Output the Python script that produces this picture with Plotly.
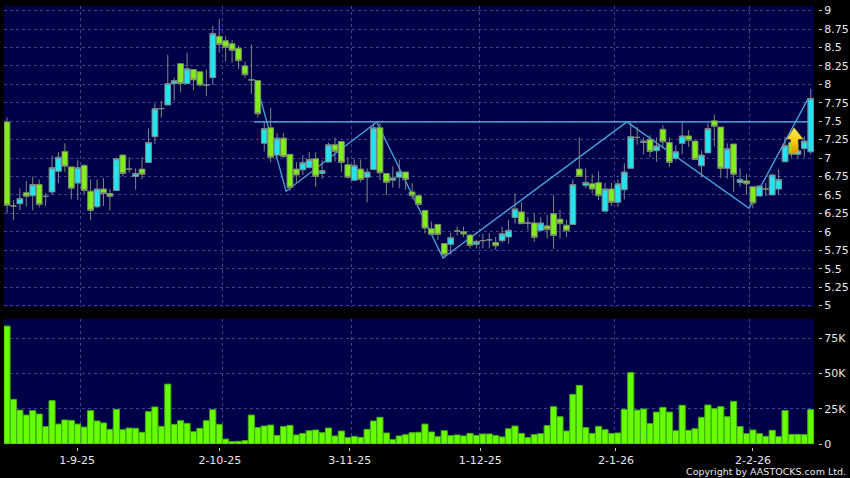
import plotly.graph_objects as go

# daily prices
opens = [7.49, 6.35, 6.38, 6.53, 6.49, 6.64, 6.48, 6.54, 6.82, 7.09,
         6.88, 6.66, 6.90, 6.55, 6.34, 6.58, 6.52, 6.56, 7.04, 6.85,
         6.75, 6.85, 6.94, 7.29, 7.67, 7.72, 8.01, 8.28, 8.01, 8.20,
         8.17, 7.99, 8.09, 8.65, 8.59, 8.55, 8.49, 8.25, 8.06, 8.05,
         7.20, 7.41, 7.04, 7.27, 7.05, 6.85, 6.84, 6.87, 6.99, 6.79,
         6.945, 7.18, 7.225, 6.91, 6.70, 6.85, 6.74, 6.845, 7.41, 6.79,
         6.70, 6.74, 6.81, 6.54, 6.49, 6.29, 6.04, 6.10, 5.84, 5.83,
         6.01, 6.00, 5.955, 5.83, 5.88, 5.89, 5.855, 5.88, 5.93, 6.195,
         6.27, 6.12, 6.12, 6.02, 6.08, 6.245, 6.17, 6.09, 6.10, 6.85,
         6.63, 6.65, 6.665, 6.28, 6.58, 6.40, 6.57, 6.86, 7.28, 7.21,
         7.25, 7.10, 7.39, 7.21, 6.995, 7.20, 7.30, 7.23, 6.895, 7.07,
         7.505, 7.42, 6.86, 7.19, 6.67, 6.69, 6.61, 6.485, 6.58, 6.50,
         6.58, 6.95, 7.21, 7.05, 7.13, 7.085]
highs = [7.55, 6.43, 6.59, 6.69, 6.75, 6.71, 6.52, 7.03, 7.08, 7.20,
         6.88, 6.97, 6.92, 6.71, 6.71, 6.73, 6.58, 7.01, 7.05, 7.01,
         6.86, 7.01, 7.40, 7.74, 7.78, 8.40, 8.09, 8.28, 8.43, 8.20,
         8.17, 8.20, 8.79, 8.89, 8.65, 8.60, 8.53, 8.31, 8.54, 8.05,
         7.49, 7.68, 7.34, 7.34, 7.05, 6.95, 7.04, 7.08, 7.08, 6.97,
         7.21, 7.28, 7.225, 7.01, 6.98, 6.98, 6.86, 7.47, 7.49, 6.79,
         6.89, 6.98, 6.81, 6.66, 6.49, 6.29, 6.14, 6.10, 5.84, 5.99,
         6.07, 6.07, 5.97, 5.89, 5.97, 5.98, 5.93, 6.07, 6.16, 6.52,
         6.40, 6.20, 6.25, 6.20, 6.23, 6.50, 6.30, 6.16, 6.71, 7.28,
         6.86, 6.78, 6.82, 6.665, 6.665, 6.71, 6.93, 7.48, 7.42, 7.28,
         7.31, 7.28, 7.45, 7.28, 7.175, 7.48, 7.38, 7.23, 7.10, 7.47,
         7.59, 7.42, 7.20, 7.19, 6.86, 6.78, 6.61, 6.63, 6.66, 6.79,
         6.85, 7.29, 7.29, 7.20, 7.29, 7.94]
lows = [6.25, 6.16, 6.29, 6.34, 6.29, 6.33, 6.35, 6.50, 6.66, 6.81,
        6.44, 6.43, 6.51, 6.16, 6.32, 6.35, 6.29, 6.56, 6.75, 6.80,
        6.57, 6.71, 6.94, 7.19, 7.55, 7.72, 7.78, 7.89, 8.01, 7.92,
        7.97, 7.84, 7.99, 8.43, 8.31, 8.29, 8.21, 8.09, 7.87, 7.55,
        7.09, 6.94, 7.01, 7.00, 6.55, 6.67, 6.77, 6.86, 6.61, 6.72,
        6.945, 6.95, 6.81, 6.72, 6.69, 6.67, 6.40, 6.845, 6.70, 6.50,
        6.60, 6.59, 6.57, 6.44, 6.37, 5.98, 5.965, 5.89, 5.64, 5.69,
        5.95, 5.93, 5.775, 5.775, 5.775, 5.775, 5.75, 5.85, 5.84, 6.11,
        6.11, 6.02, 5.865, 6.00, 5.91, 5.77, 5.91, 5.93, 6.10, 6.75,
        6.59, 6.52, 6.43, 6.28, 6.35, 6.34, 6.44, 6.86, 7.18, 7.05,
        7.01, 6.95, 7.13, 6.88, 6.97, 7.05, 7.15, 6.98, 6.74, 7.07,
        7.16, 6.73, 6.72, 6.54, 6.61, 6.50, 6.32, 6.485, 6.485, 6.50,
        6.50, 6.95, 7.01, 7.00, 7.01, 7.05]
closes = [6.36, 6.35, 6.45, 6.48, 6.64, 6.37, 6.48, 6.87, 7.01, 6.89,
          6.59, 6.87, 6.56, 6.29, 6.58, 6.52, 6.48, 6.99, 6.79, 6.85,
          6.79, 6.78, 7.21, 7.67, 7.67, 8.01, 8.05, 8.01, 8.21, 8.06,
          7.99, 7.99, 8.69, 8.54, 8.50, 8.46, 8.32, 8.13, 8.06, 7.60,
          7.40, 7.01, 7.27, 7.02, 6.60, 6.77, 6.94, 6.98, 6.75, 6.83,
          7.18, 7.09, 6.94, 6.74, 6.90, 6.71, 6.81, 7.41, 6.80, 6.67,
          6.73, 6.81, 6.71, 6.49, 6.37, 6.05, 5.965, 5.965, 5.69, 5.92,
          6.01, 5.97, 5.815, 5.87, 5.88, 5.89, 5.81, 5.975, 6.02, 6.31,
          6.11, 6.12, 5.925, 6.12, 6.03, 5.95, 6.11, 6.015, 6.64, 6.75,
          6.67, 6.58, 6.49, 6.58, 6.40, 6.65, 6.81, 7.29, 7.28, 7.23,
          7.09, 7.165, 7.22, 6.94, 7.085, 7.30, 7.24, 6.98, 7.04, 7.40,
          7.43, 6.86, 7.125, 6.78, 6.71, 6.65, 6.39, 6.62, 6.58, 6.77,
          6.71, 7.17, 7.05, 7.10, 7.23, 7.81]

# volume in thousands
volumes = [83.5, 31.6, 24, 20.5, 23.6, 21.2, 12.3, 30.7, 14.1, 17,
           16.7, 14.1, 12, 23.6, 16.3, 14.9, 10.4, 24.5, 10.1, 11.3,
           11.1, 8.3, 22.9, 26.2, 12.5, 42.4, 13.9, 16.5, 14.6, 8.7,
           11.1, 16.5, 24.3, 13.9, 3.5, 1.7, 1.9, 2.4, 20.5, 11.6,
           12.7, 13.4, 6.1, 12.3, 13.2, 6.4, 7.5, 9.4, 9.9, 8,
           11.3, 5.7, 9.2, 4.5, 5.4, 4.7, 10.4, 16.3, 18.9, 7.8,
           3.1, 5.7, 6.6, 8, 8.3, 14.1, 8.5, 5.2, 9.4, 5.9,
           6.4, 5.7, 7.5, 6.1, 7.1, 7.1, 5.9, 5, 10.8, 12.7,
           7.5, 4.5, 6.6, 7.3, 13, 26.4, 19.3, 9.2, 35.1, 41.5,
           11.6, 7.5, 12.5, 10.1, 7.5, 7.8, 24.5, 50.5, 24, 24.8,
           14.4, 22.6, 25.9, 22.6, 9.4, 27.4, 9.7, 10.8, 18.9, 27.6,
           25, 26.4, 19.3, 30.2, 12.3, 7.3, 9.9, 7.3, 5.4, 9.7,
           5.2, 23.6, 6.8, 6.8, 6.6, 24.3]

days = list(range(len(closes)))

# pattern lines
neckline_x = [38.4, 124.6]
neckline_y = [7.49, 7.49]
zigzag_x = [38.6, 43.4, 57.5, 67.8, 96.4, 115.4, 124.6]
zigzag_y = [8.06, 6.55, 7.49, 5.645, 7.49, 6.32, 7.81]

# yellow signal arrow
arrow_x = [122.4, 123.8, 123.0, 123.0, 121.9, 121.9, 121.3, 122.4]
arrow_y = [7.41, 7.26, 7.26, 7.07, 7.07, 7.26, 7.26, 7.41]

price_ticks = [5, 5.25, 5.5, 5.75, 6, 6.25, 6.5, 6.75, 7, 7.25, 7.5, 7.75, 8, 8.25, 8.5, 8.75, 9]
price_labels = ['5', '5.25', '5.5', '5.75', '6', '6.25', '6.5', '6.75', '7', '7.25', '7.5',
                '7.75', '8', '8.25', '8.5', '8.75', '9']
vol_ticks = [0, 25, 50, 75]
vol_labels = ['0', '25K', '50K', '75K']
date_ticks = [10.9, 33.1, 53.3, 73.6, 94.7, 116.0]
date_labels = ['1-9-25', '2-10-25', '3-11-25', '1-12-25', '2-1-26', '2-2-26']
month_grid = [11.5, 33.5, 53.6, 73.5, 94.5, 115.4]

BG = '#000048'
GRID = '#42428a'
TEXT = '#e8e8e8'
FONT = 'DejaVu Sans'
X_RANGE = [-0.47, 125.5]
Y_RANGE = [4.98, 9.062]
X_DOMAIN = [0, 810 / 814]
PRICE_DOMAIN = [140 / 441, 1]
VOL_DOMAIN = [3 / 441, 128 / 441]

fig = go.Figure()

# lines go on the lower subplot so the candles sit over them
fig.add_trace(go.Scatter(x=neckline_x, y=neckline_y, mode='lines', xaxis='x', yaxis='y',
                         line=dict(color='#66bbee', width=1.3), hoverinfo='skip'))
fig.add_trace(go.Scatter(x=zigzag_x, y=zigzag_y, mode='lines', xaxis='x', yaxis='y',
                         line=dict(color='#4aa4dc', width=1.3), hoverinfo='skip'))

fig.add_trace(go.Candlestick(
    x=days, open=opens, high=highs, low=lows, close=closes, xaxis='x3', yaxis='y3',
    whiskerwidth=0,
    increasing=dict(fillcolor='#22e4f0', line=dict(color='#7d8a8a', width=1)),
    decreasing=dict(fillcolor='#80ee1a', line=dict(color='#7d8a70', width=1)),
))

fig.add_trace(go.Scatter(
    x=arrow_x, y=arrow_y, mode='lines', xaxis='x3', yaxis='y3', fill='toself',
    line=dict(color='#f0c020', width=0.5),
    fillgradient=dict(type='vertical', colorscale=[[0, '#d89a00'], [0.5, '#ffd010'], [1, '#ffe860']]),
    hoverinfo='skip',
))

fig.add_trace(go.Bar(x=days, y=volumes, xaxis='x2', yaxis='y2',
                     marker=dict(color='#66ff00', line=dict(color='#48b010', width=1))))

axis_font = dict(family=FONT, size=11, color=TEXT)
fig.update_layout(
    width=850, height=478,
    margin=dict(l=4, r=32, t=6, b=31, autoexpand=False),
    paper_bgcolor='#000000', plot_bgcolor=BG,
    showlegend=False, bargap=0.05, boxgap=0.1, boxgroupgap=0,
    xaxis=dict(domain=X_DOMAIN, range=X_RANGE, anchor='y', showticklabels=False, ticks='',
               showgrid=False, zeroline=False, showline=False,
               minor=dict(tickvals=month_grid, showgrid=True, gridcolor=GRID, griddash='3px,3px',
                          gridwidth=1, ticks='')),
    yaxis=dict(domain=PRICE_DOMAIN, range=Y_RANGE, anchor='free', position=1, side='right',
               tickvals=price_ticks, ticktext=price_labels, ticks='outside', ticklen=3,
               tickcolor='#c8c8c8', tickfont=axis_font, gridcolor=GRID,
               griddash='3px,3px', gridwidth=1, zeroline=False, showline=False),
    xaxis2=dict(domain=X_DOMAIN, range=X_RANGE, anchor='free', position=0, tickvals=date_ticks,
                ticktext=date_labels, ticks='outside', ticklen=3, tickcolor='#c8c8c8',
                tickfont=axis_font, showgrid=False, zeroline=False, showline=False,
                minor=dict(tickvals=month_grid, showgrid=True, gridcolor=GRID, griddash='3px,3px',
                           gridwidth=1, ticks='')),
    yaxis2=dict(domain=VOL_DOMAIN, range=[0, 88.5], anchor='free', position=1, side='right',
                tickvals=vol_ticks, ticktext=vol_labels, ticks='outside', ticklen=3,
                tickcolor='#c8c8c8', tickfont=axis_font, gridcolor=GRID,
                griddash='3px,3px', gridwidth=1, zeroline=False, showline=False),
    xaxis3=dict(domain=X_DOMAIN, range=X_RANGE, overlaying='x', anchor='y3', visible=False,
                rangeslider=dict(visible=False)),
    yaxis3=dict(domain=PRICE_DOMAIN, range=Y_RANGE, overlaying='y', anchor='x3', visible=False),
    annotations=[dict(text='Copyright by AASTOCKS.com Ltd.', xref='paper', yref='paper',
                      x=1.037, y=-0.056, xanchor='right', yanchor='middle', showarrow=False,
                      font=dict(family=FONT, size=9.5, color=TEXT))],
)

# browser default body margin would shift the chart by 8px
fig.write_html("out.html", config={'displayModeBar': False},
               post_script="document.body.style.margin='0';document.body.style.background='#000';")
